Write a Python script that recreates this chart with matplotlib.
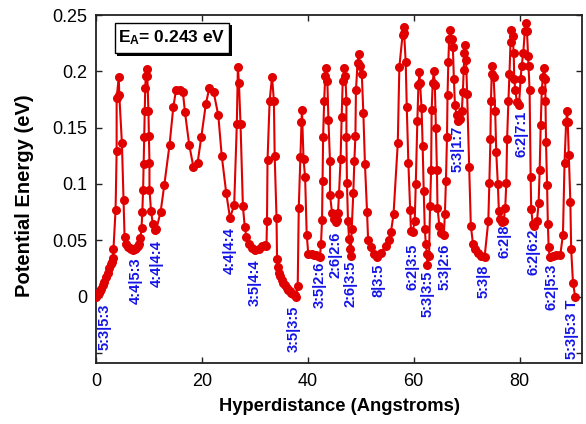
import matplotlib
matplotlib.use("Agg")
import matplotlib.pyplot as plt
from matplotlib.patches import Rectangle
from matplotlib.ticker import FixedLocator, FixedFormatter

plt.rcParams['font.family'] = ['Liberation Sans', 'DejaVu Sans']
plt.rcParams['mathtext.fontset'] = 'custom'
plt.rcParams['mathtext.rm'] = 'Liberation Sans'
plt.rcParams['mathtext.bf'] = 'Liberation Sans:bold'
plt.rcParams['mathtext.it'] = 'Liberation Sans:italic'

# ---------------- data ----------------
hyperdistance = [
    0.0, 0.2, 0.4, 0.6, 0.8, 1.0, 1.3, 1.6, 1.9, 2.2, 2.5, 2.8, 3.0, 3.2, 3.3,
    3.7, 3.9, 3.9, 4.3, 4.4, 4.9, 5.2, 5.4,
    5.75, 6.1, 6.4, 6.7, 7.0, 7.3, 7.6, 7.9, 8.1, 8.4,
    8.6, 8.75, 8.9, 9.0, 9.1, 9.2, 9.3, 9.4, 9.6, 9.7, 9.9, 10.0, 10.1, 10.1, 10.4, 10.75, 11.1, 11.4,
    12.2, 12.9, 13.9, 14.6, 15.1, 15.9, 16.4, 16.8, 17.6, 18.4, 19.2, 19.9, 20.75, 21.4, 22.2, 23.1, 23.75, 24.6, 25.3,
    26.1, 26.6, 26.8, 27.0, 27.3, 27.75, 28.1, 28.4, 28.9, 29.5, 30.1, 30.75, 31.4, 31.9, 32.2,
    32.3, 32.4, 32.8, 33.25, 33.6, 33.75, 34.1, 34.2,
    34.4, 34.6, 34.8, 35.1, 35.4, 35.7, 36.0, 36.3, 36.6, 36.9, 37.2, 37.5, 37.75,
    38.1, 38.3, 38.6, 38.8, 38.9, 39.2, 39.5, 39.8, 40.1, 40.75, 41.2, 41.6, 42.0, 42.3,
    42.5, 42.7, 42.8, 42.9, 43.1, 43.3, 43.45, 43.7, 43.9, 44.2, 44.2, 44.6, 45.0, 45.3, 45.5,
    45.7, 45.9, 46.2, 46.4, 46.6, 46.9, 47.1, 47.3, 47.3, 47.4, 47.6, 47.8, 48.0, 48.1,
    48.3, 48.6, 48.8, 49.0, 49.1, 49.4, 49.6, 49.9, 50.2, 50.5, 50.8, 51.2, 51.4, 51.9, 52.5, 53.0,
    53.8, 54.75, 55.4, 55.7, 56.2, 57.0, 57.3, 57.9, 58.1, 58.2, 58.5, 58.7, 59.0, 59.35, 59.5, 59.8,
    60.2, 60.4, 60.7, 60.9, 61.1, 61.2, 61.5, 61.7, 61.9, 62.1, 62.3, 62.5, 62.6,
    62.9, 63.1, 63.3, 63.4, 63.6, 63.8, 64.0, 64.2, 64.4, 64.5, 64.85, 65.2, 65.7,
    65.9, 66.1, 66.3, 66.4, 66.55, 66.7, 66.9, 67.2, 67.4, 67.6, 67.8, 68.1, 68.4, 68.7,
    69.1, 69.3, 69.45, 69.6, 69.7, 69.9, 70.1, 70.5, 70.8, 71.2, 71.6, 72.1, 72.7, 73.4,
    74.1, 74.3, 74.5, 74.6, 74.75, 74.85, 75.1, 75.4, 75.6, 75.9, 76.1, 76.3, 76.6, 77.0,
    77.3, 77.5, 77.65, 77.9, 78.1, 78.3, 78.4, 78.7, 78.9, 79.0, 79.2, 79.5, 79.9,
    80.2, 80.4, 80.7, 81.0, 81.2, 81.4, 81.6, 81.7, 81.9, 82.1, 82.2, 82.5, 82.8, 83.3,
    83.6, 83.8, 84.0, 84.2, 84.4, 84.6, 84.85, 84.9, 85.0, 85.2, 85.35, 85.5, 85.7, 86.3, 86.9, 87.7,
    88.2, 88.5, 88.8, 89.0, 89.1, 89.3, 89.6, 89.75, 90.1, 90.5,
]
energy = [
    0.0, 0.001, 0.002, 0.003, 0.005, 0.007, 0.010, 0.013, 0.017, 0.021, 0.025, 0.029, 0.031, 0.034, 0.042,
    0.077, 0.129, 0.176, 0.195, 0.179, 0.136, 0.086, 0.053,
    0.047, 0.044, 0.043, 0.042, 0.041, 0.042, 0.043, 0.045, 0.047, 0.052,
    0.061, 0.075, 0.095, 0.118, 0.142, 0.165, 0.185, 0.196, 0.202, 0.196, 0.165, 0.143, 0.119, 0.095, 0.076, 0.064, 0.059, 0.060,
    0.075, 0.099, 0.135, 0.168, 0.183, 0.183, 0.182, 0.164, 0.135, 0.115, 0.119, 0.142, 0.171, 0.185, 0.182, 0.161, 0.125, 0.092, 0.070,
    0.081, 0.153, 0.204, 0.190, 0.153, 0.080, 0.062, 0.053, 0.047, 0.043, 0.041, 0.042, 0.045, 0.046, 0.045,
    0.067, 0.121, 0.174, 0.195, 0.174, 0.125, 0.070, 0.033,
    0.026, 0.021, 0.018, 0.015, 0.012, 0.010, 0.008, 0.006, 0.005, 0.003, 0.002, 0.001, 0.0,
    0.009, 0.079, 0.124, 0.155, 0.166, 0.122, 0.106, 0.055, 0.038, 0.038, 0.037, 0.037, 0.036, 0.035,
    0.047, 0.068, 0.103, 0.142, 0.174, 0.196, 0.203, 0.191, 0.157, 0.120, 0.090, 0.074, 0.069, 0.066, 0.068,
    0.074, 0.091, 0.122, 0.159, 0.191, 0.203, 0.196, 0.174, 0.142, 0.101, 0.067, 0.051, 0.042, 0.036,
    0.060, 0.092, 0.120, 0.143, 0.183, 0.207, 0.215, 0.205, 0.198, 0.163, 0.118, 0.075, 0.050, 0.044, 0.038, 0.035,
    0.039, 0.045, 0.050, 0.057, 0.073, 0.136, 0.204, 0.232, 0.239, 0.234, 0.208, 0.168, 0.119, 0.077, 0.058, 0.057,
    0.067, 0.100, 0.156, 0.188, 0.199, 0.190, 0.167, 0.134, 0.094, 0.060, 0.047, 0.038, 0.028,
    0.036, 0.080, 0.112, 0.166, 0.190, 0.200, 0.188, 0.150, 0.112, 0.079, 0.063, 0.056, 0.055,
    0.073, 0.103, 0.142, 0.179, 0.208, 0.229, 0.237, 0.229, 0.222, 0.193, 0.170, 0.161, 0.156, 0.158,
    0.165, 0.182, 0.201, 0.216, 0.223, 0.210, 0.180, 0.115, 0.063, 0.047, 0.042, 0.039, 0.036, 0.035,
    0.067, 0.101, 0.140, 0.174, 0.198, 0.205, 0.195, 0.165, 0.128, 0.100, 0.076, 0.069, 0.066, 0.067,
    0.079, 0.101, 0.140, 0.174, 0.198, 0.226, 0.237, 0.231, 0.216, 0.193, 0.183, 0.173, 0.170,
    0.193, 0.205, 0.216, 0.236, 0.243, 0.236, 0.214, 0.205, 0.183, 0.106, 0.078, 0.064, 0.063, 0.067,
    0.083, 0.112, 0.152, 0.183, 0.195, 0.203, 0.193, 0.174, 0.137, 0.099, 0.064, 0.044, 0.035, 0.036, 0.037, 0.037,
    0.055, 0.119, 0.155, 0.165, 0.155, 0.126, 0.084, 0.042, 0.012, 0.0,
]

state_labels = ['5:3|5:3', '4:4|5:3', '4:4|4:4', '4:4|4:4', '3:5|4:4', '3:5|3:5',
                '3:5|2:6', '2:6|2:6', '2:6|3:5', '8|3:5', '6:2|3:5', '5:3|3:5',
                '5:3|2:6', '5:3|1:7', '5:3|8', '6:2|8', '6:2|7:1', '6:2|6:2',
                '6:2|5:3', '5:3|5:3 T']
label_x = [1.7, 7.5, 11.5, 25.2, 29.9, 37.3, 42.3, 45.2, 48.0, 53.4, 59.7, 62.6,
           65.8, 68.3, 73.2, 77.1, 80.4, 82.6, 86.1, 90.0]
label_y = [-0.006, 0.035, 0.050, 0.062, 0.033, -0.008, 0.031, 0.058, 0.032, 0.029,
           0.047, 0.023, 0.047, 0.152, 0.028, 0.064, 0.165, 0.060, 0.029, -0.003]

x_ticks = [0, 20, 40, 60, 80]
y_ticks = [-0.05, 0, 0.05, 0.1, 0.15, 0.2, 0.25]
y_tick_labels = ['', '0', '0.05', '0.1', '0.15', '0.2', '0.25']
barrier_text = r'$\mathbf{E_A}$= 0.243 eV'

# ---------------- figure ----------------
fig = plt.figure(figsize=(5.86, 4.24), dpi=100)
ax = fig.add_axes([0.1638, 0.1439, 0.8294, 0.8207])

ax.plot(hyperdistance, energy, '-o', color='#e00000', lw=1.5, ms=6.5,
        markeredgewidth=0, zorder=3)

for lab, lx, ly in zip(state_labels, label_x, label_y):
    ax.text(lx, ly, lab, rotation=90, ha='center', va='top', color='#1414e6',
            fontsize=10.5, fontweight='bold', zorder=4)

ax.set_xlim(0, 91.8)
ax.set_ylim(-0.059, 0.25)
ax.xaxis.set_major_locator(FixedLocator(x_ticks))
ax.yaxis.set_major_locator(FixedLocator(y_ticks))
ax.yaxis.set_major_formatter(FixedFormatter(y_tick_labels))
ax.tick_params(direction='in', length=4, width=1, top=True, right=True,
               labelsize=13, colors='#222222', labelcolor='black')
ax.tick_params(axis='x', pad=7)
ax.tick_params(axis='y', pad=6)
for s in ax.spines.values():
    s.set_linewidth(1.3)
    s.set_color('#222222')

ax.set_xlabel('Hyperdistance (Angstroms)', fontsize=13.2, fontweight='bold', labelpad=6)
ax.set_ylabel('Potential Energy (eV)', fontsize=14.5, fontweight='bold')
ax.yaxis.set_label_coords(-0.128, 0.48)

# energy barrier box with shadow
bx0, by0, bw, bh = 0.039, 0.890, 0.235, 0.088
ax.add_patch(Rectangle((bx0 + 0.005, by0 - 0.007), bw, bh, transform=ax.transAxes,
                       facecolor='black', edgecolor='none', zorder=5))
ax.add_patch(Rectangle((bx0, by0), bw, bh, transform=ax.transAxes,
                       facecolor='white', edgecolor='black', lw=1.0, zorder=6))
ax.text(bx0 + bw / 2, by0 + bh / 2, barrier_text, transform=ax.transAxes,
        ha='center', va='center', fontsize=12.5, fontweight='bold', zorder=7)

fig.savefig('out.png', dpi=100)
